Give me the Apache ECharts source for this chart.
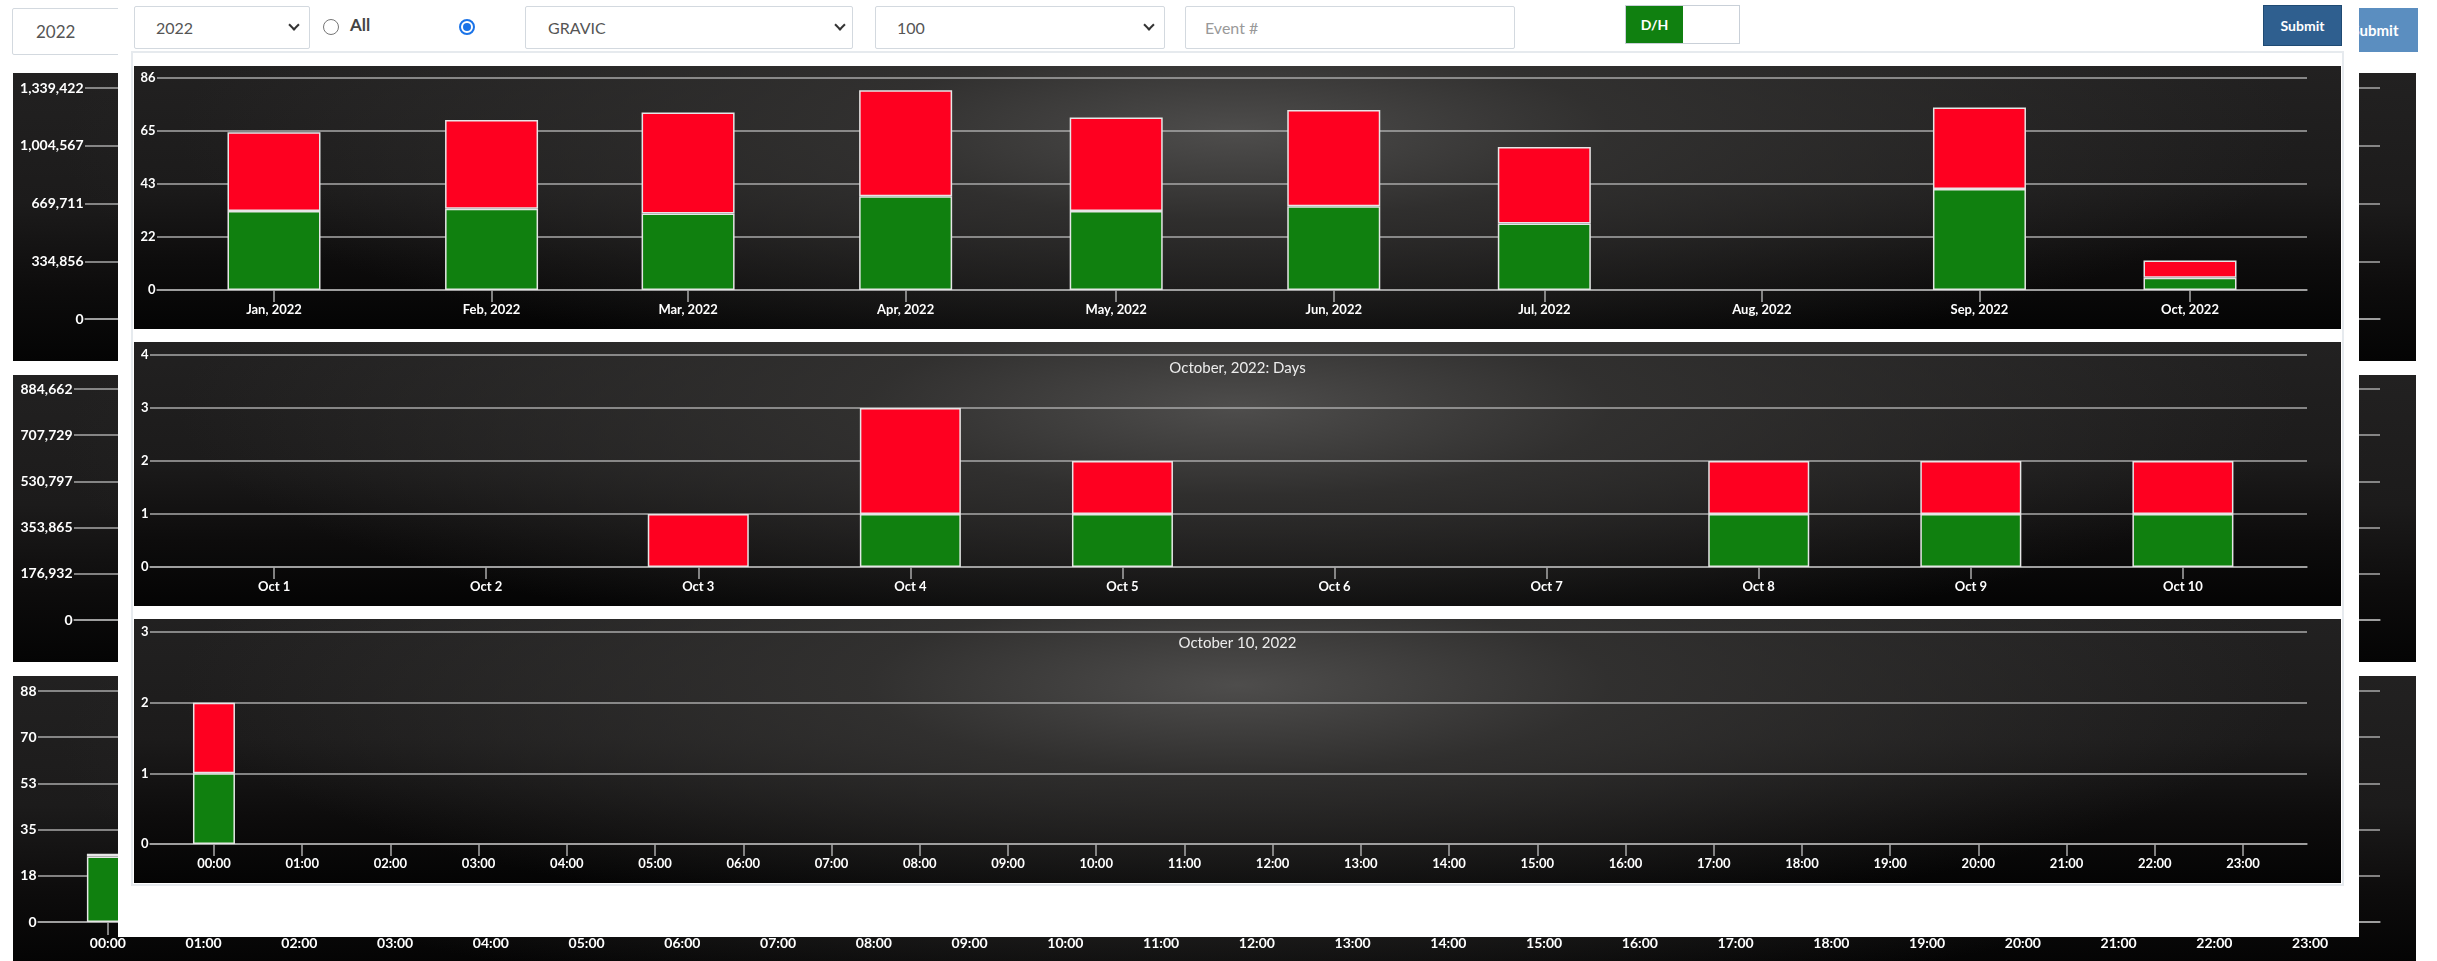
<!DOCTYPE html>
<html>
<head>
<meta charset="utf-8">
<script src="https://cdn.jsdelivr.net/npm/echarts@6/dist/echarts.min.js"></script>
<style>
	html, body { margin: 0; padding: 0; }
	body { width: 2437px; height: 961px; position: relative; overflow: hidden; background: #fff; font-family: Lato, "Open Sans", sans-serif; }
	.abs { position: absolute; box-sizing: border-box; }
	.panel {
		position: absolute;
		background:
			radial-gradient(ellipse 48% 95% at 50% 25%, rgba(78,77,76,1) 0%, rgba(52,51,50,0.85) 35%, rgba(34,33,33,0) 100%),
			linear-gradient(to bottom, #222121 0%, #1c1b1b 45%, #0d0c0c 75%, #040404 100%);
	}
	.box { position: absolute; box-sizing: border-box; background: #fff; border: 1px solid #d3d9df; border-radius: 2px; color: #555; font-size: 16px; white-space: nowrap; }
	.chev { position: absolute; width: 6px; height: 6px; border-right: 2px solid #333; border-bottom: 2px solid #333; transform: rotate(45deg); }
	.radio { position: absolute; box-sizing: border-box; width: 16px; height: 16px; border-radius: 50%; border: 1px solid #767676; background: #fff; }
</style>
</head>
<body>
	<!-- page behind the popup -->
	<div class="box" style="left:12px;top:8px;width:150px;height:47px;line-height:45px;padding-left:23px;font-size:17px;">2022</div>
	<div class="abs" style="left:2332px;top:8px;width:86px;height:44px;background:#5b8ec0;color:#fff;font-weight:bold;font-size:15px;line-height:44px;text-align:center;">Submit</div>
	<div id="bgMonthA" class="panel" style="left:13px;top:73px;width:2403px;height:288px"></div>
	<div id="bgMonthB" class="panel" style="left:13px;top:375px;width:2403px;height:287px"></div>
	<div id="bgHour" class="panel" style="left:13px;top:676px;width:2403px;height:288px"></div>

	<!-- popup -->
	<div class="abs" style="left:118px;top:0;width:2241px;height:937px;background:#fff;"></div>
	<div class="abs" style="left:131px;top:51px;width:2213px;height:835px;border:2px solid #e6eaee;"></div>

	<div class="box" style="left:134px;top:6px;width:176px;height:43px;line-height:41px;padding-left:21px;">2022</div>
	<div class="chev" style="left:290px;top:21px"></div>
	<div class="radio" style="left:323px;top:19px"></div>
	<div class="abs" style="left:350px;top:14px;font-size:17px;font-weight:bold;color:#444;">All</div>
	<div class="radio" style="left:459px;top:19px;border:2px solid #1a73e8;"><div style="position:absolute;left:2px;top:2px;width:8px;height:8px;border-radius:50%;background:#1a73e8"></div></div>
	<div class="box" style="left:525px;top:6px;width:328px;height:43px;line-height:41px;padding-left:22px;">GRAVIC</div>
	<div class="chev" style="left:836px;top:21px"></div>
	<div class="box" style="left:875px;top:6px;width:290px;height:43px;line-height:41px;padding-left:21px;">100</div>
	<div class="chev" style="left:1145px;top:21px"></div>
	<div class="box" style="left:1185px;top:6px;width:330px;height:43px;line-height:41px;padding-left:19px;color:#999;">Event #</div>
	<div class="abs" style="left:1625px;top:5px;width:115px;height:39px;border:1px solid #c9d0d8;background:#fff;">
		<div style="position:absolute;left:0;top:0;width:57px;height:37px;background:#108010;color:#fff;font-weight:bold;font-size:14px;line-height:37px;text-align:center;">D/H</div>
	</div>
	<div class="abs" style="left:2263px;top:5px;width:79px;height:41px;background:#2f5f8f;border:1px solid #1f4a73;color:#fff;font-weight:bold;font-size:14px;line-height:39px;text-align:center;">Submit</div>

	<div id="monthChart" class="panel" style="left:134px;top:66px;width:2207px;height:263px"></div>
	<div id="dayChart" class="panel" style="left:134px;top:342px;width:2207px;height:264px"></div>
	<div id="hourChart" class="panel" style="left:134px;top:619px;width:2207px;height:264px"></div>

<script>
// ---- data ----
var monthDates = ['2022-01-01', '2022-02-01', '2022-03-01', '2022-04-01', '2022-05-01', '2022-06-01', '2022-07-01', '2022-08-01', '2022-09-01', '2022-10-01'];
var monthLabels = ['Jan, 2022', 'Feb, 2022', 'Mar, 2022', 'Apr, 2022', 'May, 2022', 'Jun, 2022', 'Jul, 2022', 'Aug, 2022', 'Sep, 2022', 'Oct, 2022'];
var monthGreen = [32, 33, 31, 38, 32, 34, 27, 0, 41, 5];
var monthRed = [32, 36, 41, 43, 38, 39, 31, 0, 33, 7];
var monthTicks = ['0', '22', '43', '65', '86'];

var dayDates = ['2022-10-01', '2022-10-02', '2022-10-03', '2022-10-04', '2022-10-05', '2022-10-06', '2022-10-07', '2022-10-08', '2022-10-09', '2022-10-10'];
var dayLabels = ['Oct 1', 'Oct 2', 'Oct 3', 'Oct 4', 'Oct 5', 'Oct 6', 'Oct 7', 'Oct 8', 'Oct 9', 'Oct 10'];
var dayGreen = [0, 0, 0, 1, 1, 0, 0, 1, 1, 1];
var dayRed = [0, 0, 1, 2, 1, 0, 0, 1, 1, 1];
var dayTicks = ['0', '1', '2', '3', '4'];

var hourLabels = ['00:00', '01:00', '02:00', '03:00', '04:00', '05:00', '06:00', '07:00', '08:00', '09:00', '10:00', '11:00',
	'12:00', '13:00', '14:00', '15:00', '16:00', '17:00', '18:00', '19:00', '20:00', '21:00', '22:00', '23:00'];
var hourGreen = [1, 0, 0, 0, 0, 0, 0, 0, 0, 0, 0, 0, 0, 0, 0, 0, 0, 0, 0, 0, 0, 0, 0, 0];
var hourRed = [1, 0, 0, 0, 0, 0, 0, 0, 0, 0, 0, 0, 0, 0, 0, 0, 0, 0, 0, 0, 0, 0, 0, 0];
var hourTicks = ['0', '1', '2', '3'];

// page behind the popup
var bgTicksA = ['0', '334,856', '669,711', '1,004,567', '1,339,422'];
var bgTicksB = ['0', '176,932', '353,865', '530,797', '707,729', '884,662'];
var bgHourTicks = ['0', '18', '35', '53', '70', '88'];
var bgHourGreen = [25, 0, 0, 0, 0, 0, 0, 0, 0, 0, 0, 0, 0, 0, 0, 0, 0, 0, 0, 0, 0, 0, 0, 0];
var bgHourRed = [1, 0, 0, 0, 0, 0, 0, 0, 0, 0, 0, 0, 0, 0, 0, 0, 0, 0, 0, 0, 0, 0, 0, 0];

var DAY = 86400000, HOUR = 3600000;
var FONT = 'Lato, "Open Sans", sans-serif';
var LINE = '#a9a9a9';

function ts(s) { return new Date(s.replace(/-/g, '/')).getTime(); }
var hourDates = hourLabels.map(function (h) { return '2022-10-10 ' + h; });

// value first, position second, so that the stack goes on the value
function barSeries(xs, vals, color, width) {
	return {
		type: 'bar',
		stack: 'total',
		barWidth: width,
		silent: true,
		encode: { x: 1, y: 0 },
		data: xs.map(function (x, i) { return [vals[i] || '-', x]; }),
		itemStyle: { color: color, borderColor: '#e6e6e6', borderWidth: 1.5 }
	};
}

// one dark panel chart; x is time since the first date, in c.unit
function drawChart(id, c) {
	var chart = echarts.init(document.getElementById(id));
	var t0 = ts(c.dates[0]);
	var xs = c.dates.map(function (d) { return (ts(d) - t0) / c.unit; });
	var yMax = +c.yTicks[c.yTicks.length - 1].replace(/,/g, '');
	var yStep = yMax / (c.yTicks.length - 1);
	var series = [];
	if (c.green) {
		series.push(barSeries(xs, c.green, '#10800f', c.barWidth));
		series.push(barSeries(xs, c.red, '#fe0020', c.barWidth));
	}
	chart.setOption({
		animation: false,
		title: c.title ? {
			text: c.title, left: 'center', top: c.titleTop, padding: 0,
			textStyle: { color: '#ececec', fontSize: 15, fontWeight: 'normal', fontFamily: FONT }
		} : { show: false },
		grid: c.grid,
		xAxis: {
			type: 'value',
			min: xs[0] - c.pad,
			max: xs[xs.length - 1] + c.pad,
			axisLine: { show: true, lineStyle: { color: LINE, width: 1.5 } },
			axisTick: { show: true, customValues: xs, length: c.tickLen, lineStyle: { color: LINE, width: 1.5 } },
			axisLabel: {
				customValues: xs, showMinLabel: true, showMaxLabel: true,
				formatter: function (v) { return c.labels[xs.indexOf(v)]; },
				color: '#fff', fontWeight: 'bold', fontSize: c.fontSize, fontFamily: FONT, margin: c.labelMargin
			},
			splitLine: { show: false }
		},
		yAxis: {
			type: 'value', min: 0, max: yMax, interval: yStep,
			axisLine: { show: false },
			axisTick: { show: false },
			axisLabel: {
				formatter: function (v) { return c.yTicks[Math.round(v / yStep)]; },
				color: '#fff', fontWeight: 'bold', fontSize: c.fontSize, fontFamily: FONT, margin: 1.5, padding: [4, 0, 0, 0]
			},
			splitLine: { lineStyle: { color: LINE, width: 1.5 } }
		},
		series: series
	});
	return chart;
}

// background page charts (mostly hidden by the popup)
drawChart('bgMonthA', {
	dates: monthDates, labels: monthLabels, unit: DAY, pad: 16.67, yTicks: bgTicksA,
	grid: { left: 72, right: 36, top: 15, bottom: 42 }, fontSize: 14, tickLen: 13, labelMargin: 14
});
drawChart('bgMonthB', {
	dates: monthDates, labels: monthLabels, unit: DAY, pad: 16.67, yTicks: bgTicksB,
	grid: { left: 61, right: 36, top: 14, bottom: 42 }, fontSize: 14, tickLen: 13, labelMargin: 14
});
drawChart('bgHour', {
	dates: hourDates, labels: hourLabels, unit: HOUR, pad: 0.73, yTicks: bgHourTicks,
	green: bgHourGreen, red: bgHourRed, barWidth: 42,
	grid: { left: 25, right: 36, top: 15, bottom: 42 }, fontSize: 14, tickLen: 13, labelMargin: 14
});

// popup charts
drawChart('monthChart', {
	dates: monthDates, labels: monthLabels, unit: DAY, pad: 16.67, yTicks: monthTicks,
	green: monthGreen, red: monthRed, barWidth: 93,
	grid: { left: 23, right: 34, top: 12, bottom: 39 }, fontSize: 13, tickLen: 12, labelMargin: 13
});
drawChart('dayChart', {
	dates: dayDates, labels: dayLabels, unit: DAY, pad: 0.585, yTicks: dayTicks,
	green: dayGreen, red: dayRed, barWidth: 101, title: 'October, 2022: Days', titleTop: 19,
	grid: { left: 16, right: 34, top: 13, bottom: 39 }, fontSize: 13, tickLen: 12, labelMargin: 13
});
drawChart('hourChart', {
	dates: hourDates, labels: hourLabels, unit: HOUR, pad: 0.725, yTicks: hourTicks,
	green: hourGreen, red: hourRed, barWidth: 42, title: 'October 10, 2022', titleTop: 17,
	grid: { left: 16, right: 34, top: 13, bottom: 39 }, fontSize: 13, tickLen: 12, labelMargin: 13
});
</script>
</body>
</html>
